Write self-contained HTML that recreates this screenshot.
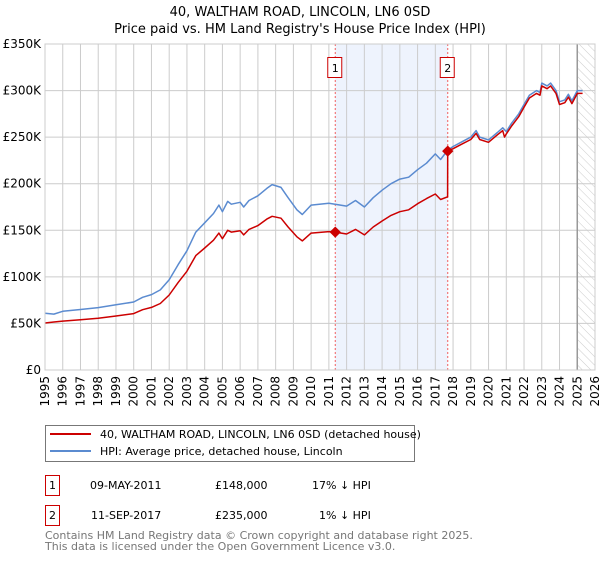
<!DOCTYPE html>
<html><head><meta charset="utf-8"><style>
body{margin:0;background:#fff;font-family:"DejaVu Sans","Liberation Sans",sans-serif}
svg text{font-family:"DejaVu Sans","Liberation Sans",sans-serif}
</style></head><body>
<svg id="c" width="600" height="560">
<defs><pattern id="hatch" width="6" height="6" patternUnits="userSpaceOnUse" patternTransform="rotate(-45)"><line x1="0" y1="0" x2="0" y2="6" stroke="#ccc" stroke-width="1"/></pattern></defs>
<text x="300" y="16" text-anchor="middle" font-size="13" fill="#000">40, WALTHAM ROAD, LINCOLN, LN6 0SD</text>
<text x="300" y="33" text-anchor="middle" font-size="13" fill="#000">Price paid vs. HM Land Registry's House Price Index (HPI)</text>
<g id="plot"></g>
<g>
<rect x="45.5" y="425.5" width="369" height="36" fill="#fff" stroke="#777"/>
<line x1="50" y1="434" x2="91" y2="434" stroke="#cc0000" stroke-width="2"/>
<text x="100" y="438" font-size="11">40, WALTHAM ROAD, LINCOLN, LN6 0SD (detached house)</text>
<line x1="50" y1="451" x2="91" y2="451" stroke="#5b8bd0" stroke-width="2"/>
<text x="100" y="455" font-size="11">HPI: Average price, detached house, Lincoln</text>
</g>
<g font-size="11">
<rect x="45.5" y="475.5" width="14" height="20" fill="#fff" stroke="#cc0000"/>
<text x="52.5" y="489" text-anchor="middle">1</text>
<text x="90" y="489">09-MAY-2011</text>
<text x="215" y="489">£148,000</text>
<text x="312" y="489">17% ↓ HPI</text>
<rect x="45.5" y="505.5" width="14" height="20" fill="#fff" stroke="#cc0000"/>
<text x="52.5" y="519" text-anchor="middle">2</text>
<text x="91" y="519">11-SEP-2017</text>
<text x="215" y="519">£235,000</text>
<text x="319" y="519">1% ↓ HPI</text>
</g>
<text x="45" y="539" font-size="11" fill="#777">Contains HM Land Registry data © Crown copyright and database right 2025.</text>
<text x="45" y="550" font-size="11" fill="#777">This data is licensed under the Open Government Licence v3.0.</text>
</svg>
<script>
const hpiYears=[1995,1995.5,1996,1997,1998,1999,2000,2000.5,2001,2001.5,2002,2002.5,2003,2003.5,2004,2004.5,2004.8,2005,2005.3,2005.5,2006,2006.2,2006.5,2007,2007.5,2007.8,2008.3,2008.7,2009.2,2009.5,2010,2011,2012,2012.5,2013,2013.5,2014,2014.5,2015,2015.5,2016,2016.5,2017,2017.3,2017.7,2018,2018.5,2019,2019.3,2019.5,2020,2020.5,2020.8,2021,2021.3,2021.7,2022,2022.3,2022.7,2022.9,2023,2023.3,2023.5,2023.8,2024,2024.3,2024.5,2024.7,2025,2025.3];
const hpiValues=[61,60,63,65,67,70,73,78,81,86,97,113,128,148,158,168,177,170,181,178,180,175,182,187,195,199,196,185,172,167,177,179,176,182,175,185,193,200,205,207,215,222,232,226,236,240,245,250,257,250,247,255,260,256,265,275,285,295,300,298,308,305,308,300,288,290,296,289,300,300];
const propYears=[1995,1995.5,1996,1997,1998,1999,2000,2000.5,2001,2001.5,2002,2002.5,2003,2003.5,2004,2004.5,2004.8,2005,2005.3,2005.5,2006,2006.2,2006.5,2007,2007.5,2007.8,2008.3,2008.7,2009.2,2009.5,2010,2011,2011.36,2012,2012.5,2013,2013.5,2014,2014.5,2015,2015.5,2016,2016.5,2017,2017.3,2017.69,2017.7,2018,2018.5,2019,2019.3,2019.5,2020,2020.5,2020.8,2020.9,2021,2021.3,2021.7,2022,2022.3,2022.7,2022.9,2023,2023.3,2023.5,2023.8,2024,2024.3,2024.5,2024.7,2025,2025.3];
const propValues=[50.5,51.5,52.5,54,55.6,58,60.6,64.7,67.2,71.4,80.5,93.8,106,122.8,131,139.4,147,141,150,148,149.4,145,151,155,162,165,163,153.5,143,138.6,147,148.6,148,146,151,145,153.5,160,166,170,172,178.5,184,189,183,186,235,237.6,242.5,247.5,254,247.5,244.5,252.5,257,250,253.5,262,272,282,292,297,295,305,302,305,297,285,287,293,286,297,297];
const sales=[{n:"1",year:2011.36,value:148},{n:"2",year:2017.7,value:235}];
const yTicks=[0,50,100,150,200,250,300,350];
const yTickLabels=["£0","£50K","£100K","£150K","£200K","£250K","£300K","£350K"];
const xTicks=[1995,1996,1997,1998,1999,2000,2001,2002,2003,2004,2005,2006,2007,2008,2009,2010,2011,2012,2013,2014,2015,2016,2017,2018,2019,2020,2021,2022,2023,2024,2025,2026];

const X0=45,X1=595,Y0=370,Y1=44;
const xs=y=>X0+(y-1995)/(2026-1995)*(X1-X0);
const ys=v=>Y0-v/350*(Y0-Y1);
const NS="http://www.w3.org/2000/svg";
const g=document.getElementById('plot');
function mk(t,a,p){const e=document.createElementNS(NS,t);for(const k in a)e.setAttribute(k,a[k]);(p||g).appendChild(e);return e;}

let e=mk('rect',{x:xs(sales[0].year),y:Y1,width:xs(sales[1].year)-xs(sales[0].year),height:Y0-Y1,fill:'#eef3fd'});


e=mk('rect',{x:xs(2025),y:Y1,width:X1-xs(2025),height:Y0-Y1,fill:'url(#hatch)'});



xTicks.forEach(t=>{
  const l=mk('line',{x1:xs(t),x2:xs(t),y1:Y1,y2:Y0,stroke:'#ccc','stroke-width':1});
  
  
  const tx=mk('text',{x:0,y:0,'font-size':12,'text-anchor':'end',transform:`translate(${xs(t)+4},${Y0+6}) rotate(-90)`});
  tx.textContent=t;
  
  
});
yTicks.forEach((t,i)=>{
  const l=mk('line',{x1:X0,x2:X1,y1:ys(t),y2:ys(t),stroke:'#ccc','stroke-width':1});
  
  
  const tx=mk('text',{x:X0-4,y:ys(t)+4,'font-size':12,'text-anchor':'end'});
  tx.textContent=yTickLabels[i];
  
  
});
e=mk('line',{x1:xs(2025),x2:xs(2025),y1:Y1,y2:Y0,stroke:'#999','stroke-width':1.5});



sales.forEach(s=>{
  const l=mk('line',{x1:xs(s.year),x2:xs(s.year),y1:Y1,y2:Y0,stroke:'#f06060','stroke-dasharray':'2,2','stroke-width':1});
  
  
  const b=mk('rect',{x:xs(s.year)-7.5,y:57.5,width:14,height:20,fill:'#fff',stroke:'#cc0000'});
  
  
  const t=mk('text',{x:xs(s.year),y:72,'font-size':11,'text-anchor':'middle'});
  t.textContent=s.n;
  
  
});

const pts=(xa,va)=>xa.map((y,i)=>xs(y).toFixed(1)+','+ys(va[i]).toFixed(1)).join(' ');
e=mk('polyline',{points:pts(hpiYears,hpiValues),fill:'none',stroke:'#5b8bd0','stroke-width':1.5,'stroke-linejoin':'round'});


e=mk('polyline',{points:pts(propYears,propValues),fill:'none',stroke:'#cc0000','stroke-width':1.5,'stroke-linejoin':'round'});


sales.forEach(s=>{
  const c=mk('rect',{x:xs(s.year)-4,y:ys(s.value)-4,width:8,height:8,fill:'#cc0000',transform:`rotate(45 ${xs(s.year)} ${ys(s.value)})`});
  
  
});
e=mk('rect',{x:X0,y:Y1,width:X1-X0,height:Y0-Y1,fill:'none',stroke:'#ccc'});


</script>
</body></html>
